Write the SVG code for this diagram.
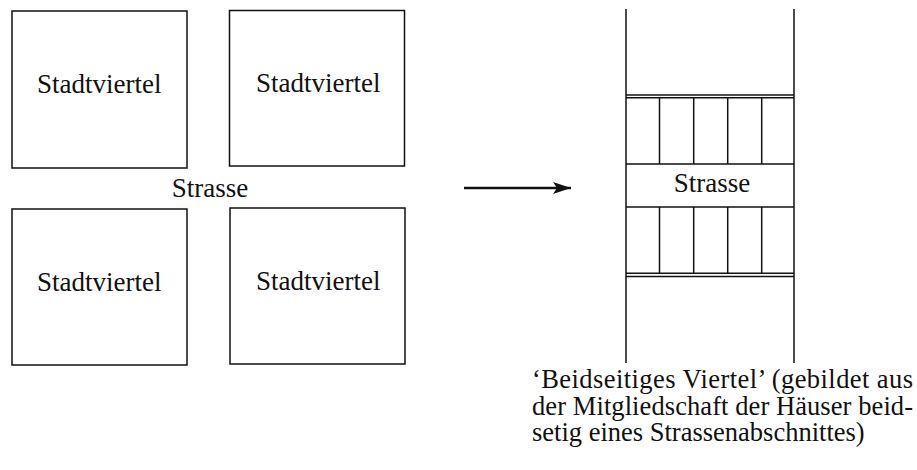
<svg xmlns="http://www.w3.org/2000/svg" width="917" height="470" viewBox="0 0 917 470">
  <style>
    .frame { fill: none; stroke: #111; stroke-width: 1.5; }
    .ln { stroke: #111; stroke-width: 1.5; fill: none; }
    .lbl { font-family: "Liberation Serif", "Times New Roman", serif; font-size: 27px; fill: #111; }
    .cap { font-family: "Liberation Serif", "Times New Roman", serif; font-size: 26.5px; fill: #111; }
    .mid { text-anchor: middle; }
    .conn { stroke: #111; stroke-width: 2.3; fill: none; }
  </style>
  <defs>
    <marker id="arrowhead" markerUnits="userSpaceOnUse" markerWidth="20" markerHeight="14" refX="18" refY="6" orient="auto">
      <path d="M0,0 L18,6 L0,12 L4,6 Z" fill="#111"/>
    </marker>
  </defs>
  <rect width="917" height="470" fill="#fff"/>

  <!-- four city quarters around a crossing -->
  <g id="quarter-nw">
    <rect class="frame" x="12" y="11" width="175" height="157"/>
    <text class="lbl" x="37" y="93">Stadtviertel</text>
  </g>
  <g id="quarter-ne">
    <rect class="frame" x="229.5" y="10.5" width="175" height="155.5"/>
    <text class="lbl" x="256" y="92">Stadtviertel</text>
  </g>
  <g id="quarter-sw">
    <rect class="frame" x="12" y="209" width="175" height="156"/>
    <text class="lbl" x="37" y="291">Stadtviertel</text>
  </g>
  <g id="quarter-se">
    <rect class="frame" x="230" y="208" width="175" height="156"/>
    <text class="lbl" x="256" y="290">Stadtviertel</text>
  </g>
  <g id="street-label">
    <text class="lbl mid" x="210" y="197">Strasse</text>
  </g>

  <!-- street segment with houses on both sides -->
  <g id="two-sided-quarter">
    <line class="ln" x1="626" y1="9" x2="626" y2="363"/>
    <line class="ln" x1="794" y1="9" x2="794" y2="363"/>
    <line class="ln" x1="626" y1="95" x2="794" y2="95"/>
    <line class="ln" x1="626" y1="97.8" x2="794" y2="97.8"/>
    <line class="ln" x1="626" y1="164" x2="794" y2="164"/>
    <line class="ln" x1="626" y1="207" x2="794" y2="207"/>
    <line class="ln" x1="626" y1="273.3" x2="794" y2="273.3"/>
    <line class="ln" x1="626" y1="276.5" x2="794" y2="276.5"/>
    <!-- house dividers, upper row -->
    <line class="ln" x1="659.5" y1="97.8" x2="659.5" y2="164"/>
    <line class="ln" x1="693.7" y1="97.8" x2="693.7" y2="164"/>
    <line class="ln" x1="727.7" y1="97.8" x2="727.7" y2="164"/>
    <line class="ln" x1="761.7" y1="97.8" x2="761.7" y2="164"/>
    <!-- house dividers, lower row -->
    <line class="ln" x1="659.5" y1="207" x2="659.5" y2="273.3"/>
    <line class="ln" x1="693.7" y1="207" x2="693.7" y2="273.3"/>
    <line class="ln" x1="727.7" y1="207" x2="727.7" y2="273.3"/>
    <line class="ln" x1="761.7" y1="207" x2="761.7" y2="273.3"/>
    <text class="lbl mid" x="712" y="192">Strasse</text>
  </g>

  <g id="caption">
    <text class="cap" x="532" y="388" textLength="381" lengthAdjust="spacing">‘Beidseitiges Viertel’ (gebildet aus</text>
    <text class="cap" x="532" y="414.5" textLength="381" lengthAdjust="spacing">der Mitgliedschaft der Häuser beid-</text>
    <text class="cap" x="532" y="441">setig eines Strassenabschnittes)</text>
  </g>

  <g id="connectors">
    <line class="conn" x1="464" y1="188" x2="571" y2="188" marker-end="url(#arrowhead)"/>
  </g>
</svg>
